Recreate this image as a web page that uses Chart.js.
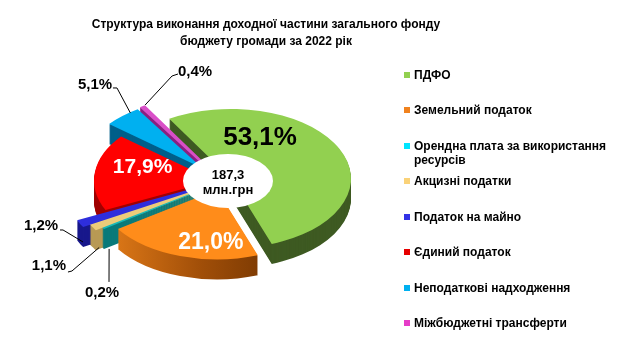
<!DOCTYPE html>
<html><head><meta charset="utf-8">
<script src="https://cdn.jsdelivr.net/npm/chart.js@4/dist/chart.umd.min.js"></script>
<style>
html,body{margin:0;padding:0;background:#fff;}
#wrap{position:relative;width:640px;height:360px;overflow:hidden;font-family:"Liberation Sans",Arial,sans-serif;}
canvas{position:absolute;left:0;top:0;}
#title{position:absolute;left:0;top:16px;width:532px;text-align:center;font-weight:bold;font-size:12px;line-height:17px;color:#000;}
#legend{position:absolute;left:404px;top:0;}
.li{position:absolute;left:0;font-weight:bold;font-size:12px;line-height:14px;white-space:nowrap;color:#000;padding-left:10px;}
.li i{position:absolute;left:0;top:4px;width:6px;height:6px;}
</style></head>
<body><div id="wrap"><canvas id="c" width="640" height="360"></canvas>
<div id="title">Структура виконання доходної частини загального фонду<br>бюджету громади за 2022 рік</div>
<div id="legend"></div></div>
<script>
// ---- data ----
const categories = ['ПДФО','Земельний податок','Орендна плата за використання ресурсів','Акцизні податки','Податок на майно','Єдиний податок','Неподаткові надходження','Міжбюджетні трансферти'];
const legendLines = [['ПДФО'],['Земельний податок'],['Орендна плата за використання','ресурсів'],['Акцизні податки'],['Податок на майно'],['Єдиний податок'],['Неподаткові надходження'],['Міжбюджетні трансферти']];
const shares = [53.1, 21.0, 0.2, 1.1, 1.2, 17.9, 5.1, 0.4];
const totalValue = '187,3';
const totalUnit = 'млн.грн';

// ---- style ----
const topColors = ['#92D050','#FF8C1A','#18B8B8','#EDCB7A','#2E2EDC','#FF0000','#00B0F0','#D94FC8'];
const sideColors = ['#3E5A22',null,'#0A7A7A','#B89A55','#18188C','#A00000','#005F8A','#8A2080'];
const legendColors = ['#92D050','#F0821E','#00E5FF','#FAD278','#3232E6','#E60000','#00B0F0','#E63CC8'];
const explode = [10, 16, 22, 30, 38, 8, 30, 30];
const thicken = [0, 0, 4, 4, 4, 0, 0, 3];
const K = 0.58, DEPTH = 20, RADIUS = 120, ROT = -31;
const labelStyle = [
  {inside:true, r:0.6, d:[-36,-22.6], font:26, color:'#000'},
  {inside:true, r:0.6, d:[16,13.5], font:23, color:'#fff'},
  {inside:false, d:[-2.1,66], s:[5,22], e1:[7,-11], e2:[7,-11]},
  {inside:false, d:[-45.2,39.5], s:[5,21], e1:[23,5], e2:[19,6]},
  {inside:false, d:[-40.7,2.8], s:[1.3,18.8], e1:[22,4], e2:[19,4]},
  {inside:true, r:0.6, d:[0,-8.4], font:21, color:'#fff'},
  {inside:false, d:[-27.4,-31], s:[8,-3], e1:[22,3], e2:[18,3]},
  {inside:false, d:[51.9,-35], s:[2,-2], e1:[-23,4], e2:[-17,2]}
];
const FONT = '"Liberation Sans", Arial, sans-serif';

// legend
const lg = document.getElementById('legend');
legendLines.forEach((lines, i) => {
  const d = document.createElement('div');
  d.className = 'li';
  d.style.top = (68 + i * 35.43) + 'px';
  d.innerHTML = '<i style="background:' + legendColors[i] + '"></i>' + lines.join('<br>');
  lg.appendChild(d);
});

function fmt(v){ return v.toFixed(1).replace('.', ',') + '%'; }
function arcPoint(arc, i, r){
  const mid = (arc.startAngle + arc.endAngle) / 2;
  const rr = r + explode[i];
  return [arc.x + Math.cos(mid) * rr, arc.y + Math.sin(mid) * rr * K];
}
function drawArcAt(ctx, arc, i, dy, color){
  const mid = (arc.startAngle + arc.endAngle) / 2;
  ctx.save();
  ctx.translate(Math.cos(mid) * explode[i], Math.sin(mid) * explode[i] + dy);
  const o = arc.options;
  arc.options = Object.assign({}, o, {backgroundColor: color, borderColor: color, borderWidth: thicken[i], borderJoinStyle: 'miter', borderDash: [], borderDashOffset: 0, offset: 0});
  arc.draw(ctx);
  arc.options = o;
  ctx.restore();
}

const pie3d = {
  id: 'pie3d',
  beforeDatasetsDraw(chart){
    const ctx = chart.ctx;
    const meta = chart.getDatasetMeta(0);
    const cx = meta.data[0].x, cy = meta.data[0].y;
    ctx.save();
    ctx.translate(cx, cy); ctx.scale(1, K); ctx.translate(-cx, -cy);
    const og = ctx.createLinearGradient(cx - 110, 0, cx + 80, 0);
    og.addColorStop(0, '#E07A18'); og.addColorStop(0.5, '#A04E08'); og.addColorStop(1, '#6A3000');
    for (let d = DEPTH; d >= 1; d--) {
      meta.data.forEach((arc, i) => drawArcAt(ctx, arc, i, d / K, sideColors[i] || og));
    }
    meta.data.forEach((arc, i) => drawArcAt(ctx, arc, i, 0, topColors[i]));
    ctx.restore();
    return false;
  },
  afterDraw(chart){
    const ctx = chart.ctx;
    const meta = chart.getDatasetMeta(0);
    const cx = meta.data[0].x, cy = meta.data[0].y;
    ctx.save();
    ctx.fillStyle = '#fff';
    ctx.beginPath();
    ctx.ellipse(cx + 6, cy, 45, 27, 0, 0, Math.PI * 2);
    ctx.fill();
    ctx.fillStyle = '#000';
    ctx.textAlign = 'center'; ctx.textBaseline = 'middle';
    ctx.font = 'bold 13px ' + FONT;
    ctx.fillText(totalValue, cx + 6, cy - 6);
    ctx.fillText(totalUnit, cx + 6, cy + 9);
    meta.data.forEach((arc, i) => {
      const st = labelStyle[i];
      const txt = fmt(shares[i]);
      if (st.inside) {
        const p = arcPoint(arc, i, arc.outerRadius * st.r);
        ctx.font = 'bold ' + st.font + 'px ' + FONT;
        ctx.fillStyle = st.color;
        ctx.fillText(txt, p[0] + st.d[0], p[1] + st.d[1]);
      } else {
        const a = arcPoint(arc, i, arc.outerRadius);
        const lx = a[0] + st.d[0], ly = a[1] + st.d[1];
        ctx.strokeStyle = '#000'; ctx.lineWidth = 1;
        ctx.beginPath();
        ctx.moveTo(a[0] + st.s[0], a[1] + st.s[1]);
        ctx.lineTo(lx + st.e1[0], ly + st.e1[1]);
        ctx.lineTo(lx + st.e2[0], ly + st.e2[1]);
        ctx.stroke();
        ctx.font = 'bold 15px ' + FONT;
        ctx.fillStyle = '#000';
        ctx.fillText(txt, lx, ly);
      }
    });
    ctx.restore();
  }
};

new Chart(document.getElementById('c'), {
  type: 'pie',
  data: {
    labels: categories,
    datasets: [{
      data: shares,
      backgroundColor: topColors,
      borderWidth: 0,
      clip: false
    }]
  },
  options: {
    responsive: false,
    devicePixelRatio: 1,
    animation: false,
    rotation: ROT,
    radius: RADIUS,
    layout: {padding: {left: 20, right: 216, top: 16, bottom: 14}},
    plugins: {legend: {display: false}, title: {display: false}, tooltip: {enabled: false}}
  },
  plugins: [pie3d]
});
</script>
</body></html>
